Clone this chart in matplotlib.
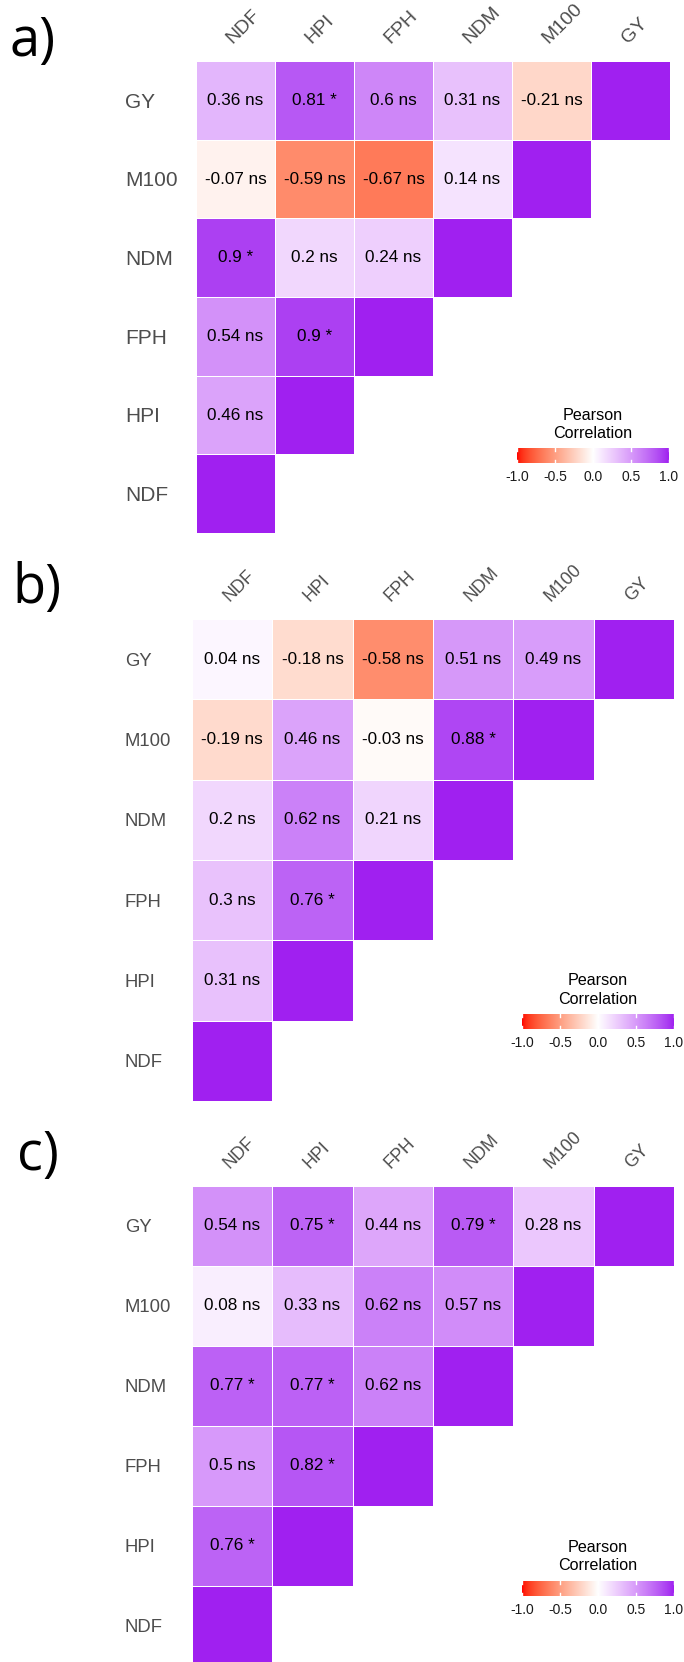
import numpy as np
import matplotlib
matplotlib.use("Agg")
import matplotlib.pyplot as plt
from matplotlib.colors import ListedColormap, Normalize, to_rgb

plt.rcParams["font.family"] = ["Liberation Sans", "DejaVu Sans"]

# variables, columns left->right and rows top->bottom
cols = ["NDF", "HPI", "FPH", "NDM", "M100", "GY"]
rows = ["GY", "M100", "NDM", "FPH", "HPI", "NDF"]

# lower triangle values per row (diagonal left out, it is 1)
corr_a = [[0.36, 0.81, 0.6, 0.31, -0.21],
          [-0.07, -0.59, -0.67, 0.14],
          [0.9, 0.2, 0.24],
          [0.54, 0.9],
          [0.46],
          []]
sig_a = [["ns", "*", "ns", "ns", "ns"],
         ["ns", "ns", "ns", "ns"],
         ["*", "ns", "ns"],
         ["ns", "*"],
         ["ns"],
         []]

corr_b = [[0.04, -0.18, -0.58, 0.51, 0.49],
          [-0.19, 0.46, -0.03, 0.88],
          [0.2, 0.62, 0.21],
          [0.3, 0.76],
          [0.31],
          []]
sig_b = [["ns", "ns", "ns", "ns", "ns"],
         ["ns", "ns", "ns", "*"],
         ["ns", "ns", "ns"],
         ["ns", "*"],
         ["ns"],
         []]

corr_c = [[0.54, 0.75, 0.44, 0.79, 0.28],
          [0.08, 0.33, 0.62, 0.57],
          [0.77, 0.77, 0.62],
          [0.5, 0.82],
          [0.76],
          []]
sig_c = [["ns", "*", "ns", "*", "ns"],
         ["ns", "ns", "ns", "ns"],
         ["*", "*", "ns"],
         ["ns", "*"],
         ["*"],
         []]

legend_ticks = [-1.0, -0.5, 0.0, 0.5, 1.0]

# --- colour scale: red - white - purple, interpolated in CIELAB like ggplot
M = np.array([[0.4124564, 0.3575761, 0.1804375],
              [0.2126729, 0.7151522, 0.0721750],
              [0.0193339, 0.1191920, 0.9503041]])
WHITE = np.array([0.95047, 1.0, 1.08883])


def to_lab(color):
    c = np.array(to_rgb(color))
    lin = np.where(c <= 0.04045, c / 12.92, ((c + 0.055) / 1.055) ** 2.4)
    t = (M @ lin) / WHITE
    f = np.where(t > (6 / 29) ** 3, np.cbrt(t), t / (3 * (6 / 29) ** 2) + 4 / 29)
    return np.array([116 * f[1] - 16, 500 * (f[0] - f[1]), 200 * (f[1] - f[2])])


def from_lab(lab):
    L, a, b = lab
    fy = (L + 16) / 116
    f = np.array([fy + a / 500, fy, fy - b / 200])
    t = np.where(f > 6 / 29, f ** 3, 3 * (6 / 29) ** 2 * (f - 4 / 29))
    lin = np.clip(np.linalg.solve(M, t * WHITE), 0, 1)
    c = np.where(lin <= 0.0031308, 12.92 * lin, 1.055 * lin ** (1 / 2.4) - 0.055)
    return np.clip(c, 0, 1)


lab_low, lab_mid, lab_high = to_lab("#FF0000"), to_lab("#FFFFFF"), to_lab("#A020F0")
vals = np.linspace(-1, 1, 256)
colors = [from_lab(lab_mid + (-v) * (lab_low - lab_mid)) if v < 0
          else from_lab(lab_mid + v * (lab_high - lab_mid)) for v in vals]
cmap = ListedColormap(colors)
norm = Normalize(-1, 1)

W, H = 684, 1662
fig = plt.figure(figsize=(W / 100, H / 100), dpi=100)


def rect(x, y, w, h):
    return [x / W, 1 - (y + h) / H, w / W, h / H]


def draw_panel(letter, corr, sig, grid, letter_xy, bar, row_size, col_size):
    n = len(cols)
    mat = np.full((n, n), np.nan)
    for r, vals_r in enumerate(corr):
        mat[r, :len(vals_r)] = vals_r
        mat[r, n - 1 - r] = 1.0

    ax = fig.add_axes(rect(*grid))
    ax.pcolormesh(np.arange(n + 1), np.arange(n + 1), np.ma.masked_invalid(mat),
                  cmap=cmap, norm=norm, edgecolors="white", linewidth=0.5)
    ax.set_xlim(0, n)
    ax.set_ylim(n, 0)
    for r, vals_r in enumerate(corr):
        for c, (v, s) in enumerate(zip(vals_r, sig[r])):
            ax.text(c + 0.5, r + 0.5, f"{v:g} {s}", ha="center", va="center",
                    fontsize=12.3, color="black")

    ax.xaxis.tick_top()
    ax.set_xticks(np.arange(n) + 0.5, cols)
    ax.set_yticks(np.arange(n) + 0.5, rows)
    ax.tick_params(length=0)
    ax.tick_params(axis="y", pad=(grid[0] - 125) * 0.72, labelsize=row_size,
                   labelcolor="#4D4D4D")
    ax.tick_params(axis="x", pad=10, labelsize=col_size, labelcolor="#4D4D4D")
    for lab in ax.get_yticklabels():
        lab.set_horizontalalignment("left")
    for lab in ax.get_xticklabels():
        lab.set_rotation(45)
        lab.set_horizontalalignment("left")
        lab.set_verticalalignment("bottom")
        lab.set_rotation_mode("anchor")
    for sp in ax.spines.values():
        sp.set_visible(False)

    fig.text(letter_xy[0] / W, 1 - letter_xy[1] / H, letter, fontsize=39,
             family="Open Sans", va="baseline", ha="left")

    # colour legend
    bx, by, bw, bh = bar
    bax = fig.add_axes(rect(bx, by, bw, bh))
    bax.imshow(np.linspace(-1, 1, 256)[None, :], extent=[-1, 1, 0, 1],
               aspect="auto", cmap=cmap, norm=norm)
    for t in legend_ticks:
        bax.plot([t, t], [0, 0.2], color="white", lw=1)
        bax.plot([t, t], [0.8, 1], color="white", lw=1)
    bax.set_xlim(-1, 1)
    bax.set_ylim(0, 1)
    bax.set_xticks(legend_ticks, [f"{t:.1f}" for t in legend_ticks])
    bax.set_yticks([])
    bax.tick_params(length=0, pad=5, labelsize=10, labelcolor="#1A1A1A")
    for sp in bax.spines.values():
        sp.set_visible(False)
    cx = (bx + bw / 2) / W
    fig.text(cx, 1 - (by - 33) / H, "Pearson", ha="center", va="center", fontsize=11.6)
    fig.text(cx, 1 - (by - 15) / H, "Correlation", ha="center", va="center", fontsize=11.6)


draw_panel("a)", corr_a, sig_a, (196, 61, 474, 472), (10, 56), (517, 448, 152, 15), 15, 14)
draw_panel("b)", corr_b, sig_b, (192, 619, 482, 482), (12, 603), (522, 1014, 152, 15), 13.3, 12.8)
draw_panel("c)", corr_c, sig_c, (192, 1186, 482, 480), (17, 1170), (522, 1581, 152, 15), 13.3, 12.8)

fig.savefig("out.png", dpi=100)
